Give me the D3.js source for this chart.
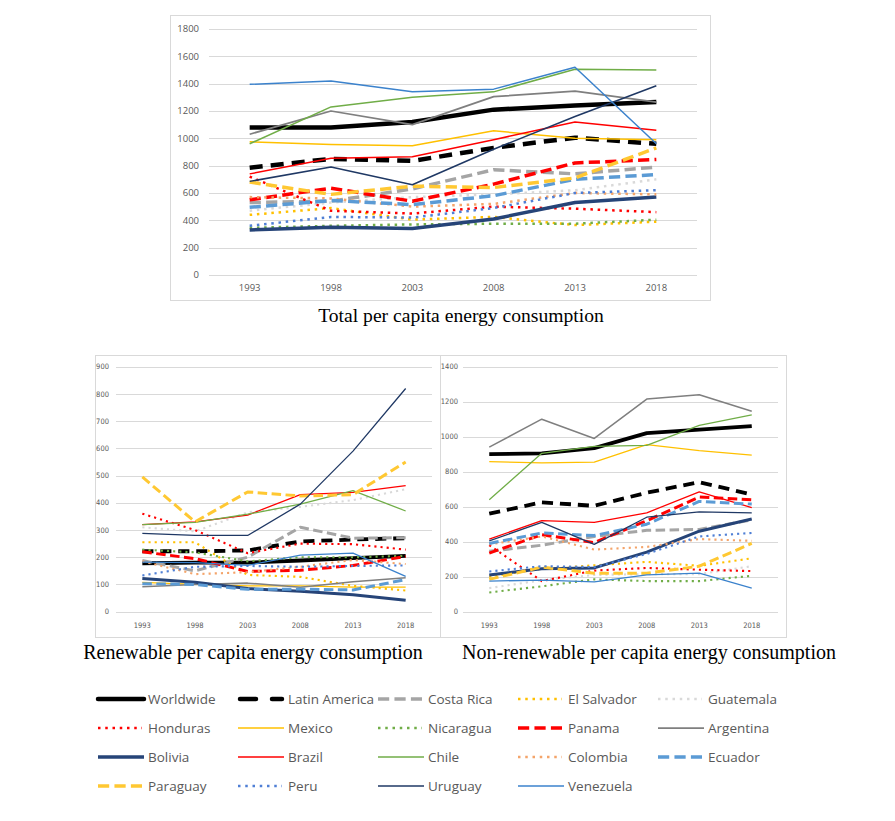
<!DOCTYPE html>
<html>
<head>
<meta charset="utf-8">
<script src="https://cdn.jsdelivr.net/npm/d3@7"></script>
<style>
  body { margin: 0; background: #fff; }
</style>
</head>
<body>
<div id="chart"></div>
<script>
const years = [1993, 1998, 2003, 2008, 2013, 2018];

const countries = [
  'Worldwide', 'Latin America', 'Costa Rica', 'El Salvador', 'Guatemala',
  'Honduras', 'Mexico', 'Nicaragua', 'Panama', 'Argentina',
  'Bolivia', 'Brazil', 'Chile', 'Colombia', 'Ecuador',
  'Paraguay', 'Peru', 'Uruguay', 'Venezuela'
];

// values per country, same order as countries
const totalValues = [
  [1080, 1080, 1120, 1210, 1240, 1265],
  [785, 850, 835, 930, 1005, 960],
  [530, 540, 630, 770, 740, 790],
  [440, 490, 405, 425, 365, 390],
  [470, 530, 570, 590, 620, 700],
  [720, 470, 450, 500, 485, 460],
  [975, 955, 945, 1055, 1000, 990],
  [345, 360, 370, 375, 375, 405],
  [550, 635, 540, 665, 820, 845],
  [1030, 1200, 1100, 1305, 1345, 1265],
  [330, 350, 340, 410, 530, 570],
  [740, 855, 865, 990, 1120, 1060],
  [960, 1230, 1300, 1340, 1505, 1500],
  [570, 560, 500, 520, 600, 590],
  [495, 545, 515, 580, 700, 735],
  [680, 590, 650, 640, 710, 930],
  [360, 425, 420, 490, 600, 620],
  [685, 790, 660, 920, 1160, 1385],
  [1395, 1420, 1340, 1360, 1520, 960]
];

const renewableValues = [
  [178, 180, 180, 188, 197, 205],
  [222, 222, 225, 258, 265, 270],
  [188, 150, 200, 310, 270, 272],
  [255, 255, 135, 128, 95, 78],
  [310, 295, 365, 385, 410, 450],
  [360, 300, 215, 250, 248, 228],
  [108, 100, 95, 95, 90, 90],
  [228, 218, 185, 200, 200, 205],
  [220, 195, 148, 152, 170, 203],
  [92, 100, 105, 90, 110, 125],
  [122, 108, 85, 75, 62, 42],
  [320, 330, 355, 430, 438, 463],
  [320, 328, 358, 395, 445, 370],
  [185, 138, 145, 165, 190, 175],
  [103, 100, 82, 83, 80, 118],
  [495, 330, 440, 425, 430, 550],
  [133, 165, 168, 165, 168, 170],
  [288, 280, 280, 395, 590, 820],
  [182, 180, 170, 208, 215, 130]
];

const nonRenewableValues = [
  [900, 905, 935, 1020, 1040, 1060],
  [560, 625, 605, 680, 740, 670],
  [345, 380, 430, 465, 470, 525],
  [200, 245, 265, 285, 262, 305],
  [135, 180, 210, 215, 215, 260],
  [380, 175, 235, 250, 240, 232],
  [858, 850, 855, 955, 920, 895],
  [110, 145, 185, 175, 175, 205],
  [335, 440, 395, 520, 655, 640],
  [940, 1100, 990, 1215, 1240, 1145],
  [210, 245, 250, 340, 460, 530],
  [415, 520, 510, 565, 685, 595],
  [640, 905, 945, 950, 1065, 1125],
  [385, 430, 355, 370, 415, 405],
  [390, 450, 435, 500, 630, 615],
  [185, 255, 220, 220, 260, 390],
  [230, 260, 255, 330, 430, 450],
  [405, 510, 385, 540, 570, 565],
  [175, 180, 170, 210, 220, 135]
];

const chartTitles = [
  'Total per capita energy consumption',
  'Renewable per capita energy consumption',
  'Non-renewable per capita energy consumption'
];

// line look for each country
const lineColors = [
  '#000000', '#000000', '#A5A5A5', '#FFC000', '#D9D9D9',
  '#FF0000', '#FFC000', '#70AD47', '#FF0000', '#7F7F7F',
  '#264478', '#FF0000', '#70AD47', '#F4A46A', '#5B9BD5',
  '#FFC832', '#4F7FD5', '#1F3864', '#3B82CC'
];
const lineTypes = [
  'solid', 'long', 'dash', 'dot', 'dot',
  'dot', 'solid', 'dot', 'dash', 'solid',
  'solid', 'solid', 'solid', 'dot', 'dash',
  'dash', 'dot', 'solid', 'solid'
];
const lineWidths = [
  4.5, 4.5, 3.5, 2.5, 2.5,
  2.5, 1.5, 2.5, 3.5, 1.75,
  3.5, 1.5, 1.5, 2.5, 3.5,
  3.5, 2.5, 1.5, 1.5
];

const svg = d3.select('#chart')
  .append('svg')
  .attr('width', 895)
  .attr('height', 821);

const dashArray = (type, w) => {
  if (type === 'dot') return `${w},${w * 1.9}`;
  if (type === 'dash') return `${w * 3.2},${w * 1.5}`;
  if (type === 'long') return `${w * 2.9},${w * 1.8}`;
  return null;
};

function drawPanel(values, opt) {
  const g = svg.append('g');

  g.append('rect')
    .attr('x', opt.box[0] + 0.5)
    .attr('y', opt.box[1] + 0.5)
    .attr('width', opt.box[2])
    .attr('height', opt.box[3])
    .attr('fill', '#fff')
    .attr('stroke', '#d9d9d9');

  const x = d3.scalePoint().domain(years).range(opt.xRange).padding(0.5);
  const y = d3.scaleLinear().domain([0, opt.max]).range(opt.yRange);

  const yTicks = d3.range(0, opt.max + 1, opt.step);

  // gridlines
  g.append('g')
    .selectAll('line')
    .data(yTicks)
    .join('line')
    .attr('x1', opt.xRange[0])
    .attr('x2', opt.xRange[1])
    .attr('y1', (d) => Math.round(y(d)) + 0.5)
    .attr('y2', (d) => Math.round(y(d)) + 0.5)
    .attr('stroke', '#d9d9d9')
    .attr('stroke-width', 1);

  // y labels
  g.append('g')
    .selectAll('text')
    .data(yTicks)
    .join('text')
    .attr('x', opt.yLabelX)
    .attr('y', (d) => y(d))
    .attr('dy', '0.35em')
    .attr('text-anchor', 'end')
    .style('font-family', opt.tickFont)
    .style('font-size', `${opt.tickSize}px`)
    .style('fill', '#595959')
    .text((d) => d);

  // x labels
  g.append('g')
    .selectAll('text')
    .data(years)
    .join('text')
    .attr('x', (d) => x(d))
    .attr('y', opt.xLabelY)
    .attr('dy', '0.35em')
    .attr('text-anchor', 'middle')
    .style('font-family', opt.tickFont)
    .style('font-size', `${opt.tickSize}px`)
    .style('fill', '#595959')
    .text((d) => d);

  const line = d3.line()
    .x((d, i) => x(years[i]))
    .y((d) => y(d));

  g.append('g')
    .selectAll('path')
    .data(values)
    .join('path')
    .attr('d', (d) => line(d))
    .attr('fill', 'none')
    .attr('stroke', (d, i) => lineColors[i])
    .attr('stroke-width', (d, i) => lineWidths[i] * opt.scale)
    .attr('stroke-dasharray', (d, i) => dashArray(lineTypes[i], lineWidths[i] * opt.scale))
    .attr('stroke-linejoin', 'round');

  svg.append('text')
    .attr('x', opt.titleX)
    .attr('y', opt.titleY)
    .attr('text-anchor', 'middle')
    .style('font-family', '"Liberation Serif", "Times New Roman", serif')
    .style('font-size', `${opt.titleSize}px`)
    .style('fill', '#000')
    .text(opt.title);
}

drawPanel(totalValues, {
  box: [170, 15, 540, 285],
  xRange: [209, 697],
  yRange: [275, 29],
  max: 1800,
  step: 200,
  yLabelX: 199,
  xLabelY: 288,
  tickFont: '"Open Sans", sans-serif',
  tickSize: 9.5,
  scale: 1,
  title: chartTitles[0],
  titleX: 461,
  titleY: 322,
  titleSize: 19.6
});

drawPanel(renewableValues, {
  box: [95, 355, 345, 282],
  xRange: [116, 432],
  yRange: [611.7, 366.7],
  max: 900,
  step: 100,
  yLabelX: 109,
  xLabelY: 625,
  tickFont: '"Liberation Sans Narrow", "DejaVu Sans Condensed", sans-serif',
  tickSize: 7.5,
  scale: 0.85,
  title: chartTitles[1],
  titleX: 253,
  titleY: 659,
  titleSize: 20
});

drawPanel(nonRenewableValues, {
  box: [440, 355, 346, 282],
  xRange: [463, 778],
  yRange: [611.7, 366.7],
  max: 1400,
  step: 200,
  yLabelX: 458,
  xLabelY: 625,
  tickFont: '"Liberation Sans Narrow", "DejaVu Sans Condensed", sans-serif',
  tickSize: 7.5,
  scale: 0.85,
  title: chartTitles[2],
  titleX: 649,
  titleY: 659,
  titleSize: 20
});

// legend, 5 columns
const legend = svg.append('g')
  .selectAll('g')
  .data(countries)
  .join('g')
  .attr('transform', (d, i) => `translate(${98 + (i % 5) * 140}, ${699 + Math.floor(i / 5) * 29})`);

legend.append('line')
  .attr('x1', (d, i) => (lineTypes[i] === 'long' ? 2 : 0))
  .attr('x2', (d, i) => (lineTypes[i] === 'solid' ? 46 : 44))
  .attr('y1', 0)
  .attr('y2', 0)
  .attr('stroke', (d, i) => lineColors[i])
  .attr('stroke-width', (d, i) => lineWidths[i])
  .attr('stroke-dasharray', (d, i) => (lineTypes[i] === 'long' ? '16,16' : dashArray(lineTypes[i], lineWidths[i])))
  .attr('stroke-linecap', (d, i) => (lineTypes[i] === 'long' || i === 0 ? 'round' : 'butt'));

legend.append('text')
  .attr('x', 50)
  .attr('y', 0)
  .attr('dy', '0.35em')
  .style('font-family', '"Open Sans", sans-serif')
  .style('font-size', '13.5px')
  .style('fill', '#595959')
  .text((d) => d);
</script>
</body>
</html>
